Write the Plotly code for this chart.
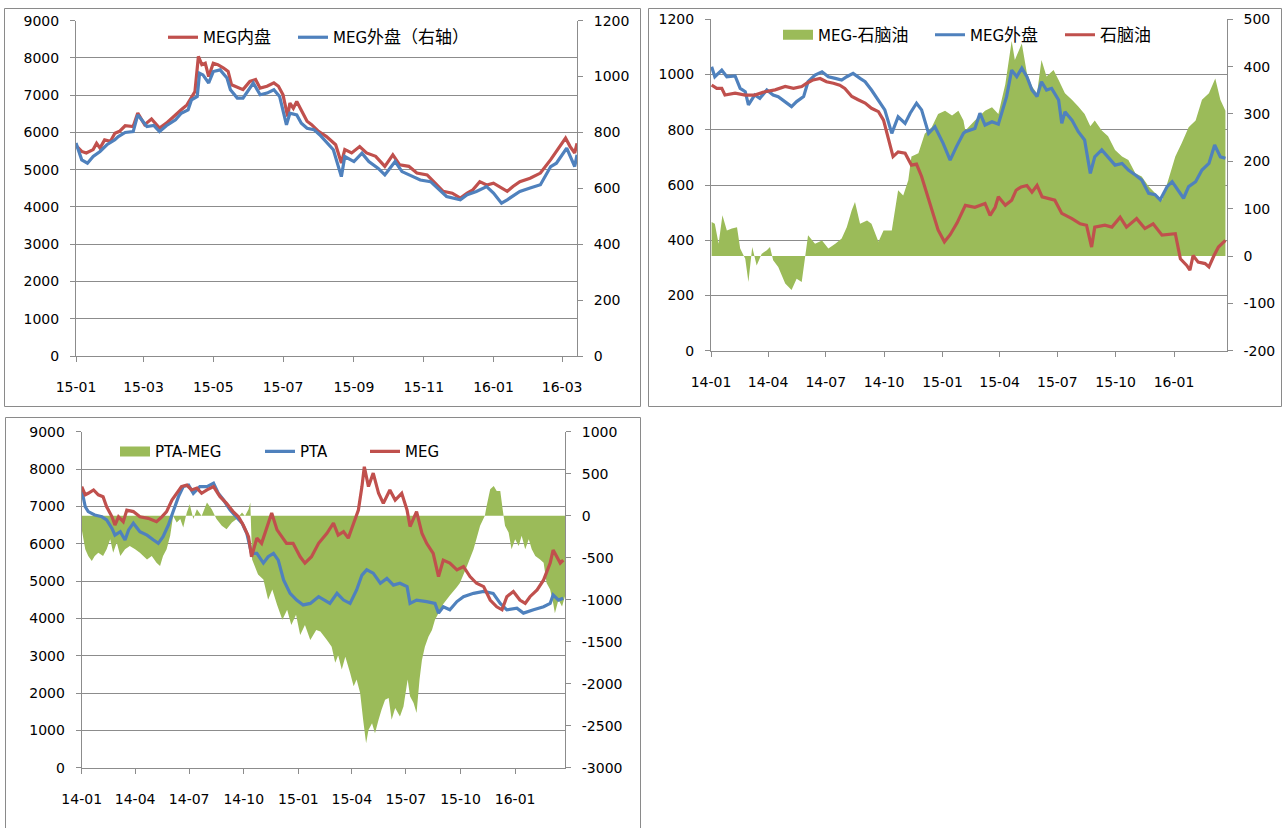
import pandas as pd
import plotly.graph_objects as go

RED = "#C0504D"
BLUE = "#4F81BD"
GREEN = "#9BBB59"
GRID = "#8C8C8C"
FONT = "DejaVu Sans, Noto Sans CJK SC, sans-serif"
CJK = '<span style="font-family:Noto Sans CJK SC;font-size:17px">{}</span>'

# ---------------- Panel 1 : MEG内盘 (left) / MEG外盘 (right) ----------------
p1_base = "2015-01-01"
p1_red_days = [0, 5, 9, 15, 18, 21, 25, 30, 34, 38, 43, 50, 54, 60, 66, 73, 79, 85, 92, 97,
               101, 104, 107, 110, 113, 116, 120, 124, 129, 133, 136, 142, 146, 152, 157, 161, 167, 173, 177, 181,
               185, 187, 190, 193, 197, 202, 206, 212, 219, 227, 232, 235, 241, 248, 254, 262, 270, 277, 283, 291,
               298, 307, 314, 321, 329, 336, 342, 347, 353, 359, 365, 372, 377, 382, 388, 397, 406, 415, 420, 428,
               432, 436, 438]
p1_red = [5650, 5490, 5450, 5540, 5710, 5580, 5800, 5760, 5980, 6030, 6180, 6160, 6520, 6210, 6360, 6120, 6250, 6430, 6610, 6740,
          6970, 7100, 8040, 7820, 7860, 7500, 7860, 7820, 7730, 7640, 7280, 7190, 7150, 7370, 7420, 7190, 7240, 7330, 7240, 7010,
          6430, 6790, 6650, 6830, 6610, 6300, 6210, 6030, 5890, 5670, 5180, 5540, 5450, 5620, 5450, 5360, 5090, 5400, 5130, 5090,
          4910, 4860, 4640, 4420, 4370, 4240, 4370, 4460, 4680, 4590, 4640, 4510, 4420, 4550, 4680, 4770, 4910, 5270, 5490, 5850,
          5620, 5450, 5710]
p1_blue_days = [0, 5, 10, 15, 21, 27, 34, 37, 43, 50, 54, 62, 68, 73, 79, 87, 92, 98, 101, 106,
                108, 111, 116, 120, 126, 132, 135, 141, 146, 155, 161, 167, 173, 178, 184, 187, 193, 197, 202, 208,
                213, 225, 232, 235, 243, 250, 256, 264, 270, 279, 285, 294, 301, 310, 318, 324, 336, 342, 350, 359,
                365, 372, 377, 381, 388, 397, 406, 415, 420, 429, 432, 436, 438]
p1_blue = [762, 702, 690, 714, 732, 756, 774, 785, 800, 803, 863, 821, 825, 803, 824, 845, 869, 881, 917, 929,
           1012, 1006, 977, 1018, 1024, 995, 953, 923, 923, 977, 935, 941, 953, 929, 827, 869, 863, 833, 815, 810,
           792, 738, 642, 714, 696, 726, 696, 672, 648, 696, 660, 642, 630, 624, 595, 571, 559, 577, 589, 606,
           583, 547, 559, 571, 589, 601, 613, 678, 690, 744, 714, 678, 720]
p1_tickvals = ["2015-01-01", "2015-03-01", "2015-05-01", "2015-07-01", "2015-09-01", "2015-11-01", "2016-01-01", "2016-03-01"]
p1_ticktext = ["15-01", "15-03", "15-05", "15-07", "15-09", "15-11", "16-01", "16-03"]
p1_left_ticks = [0, 1000, 2000, 3000, 4000, 5000, 6000, 7000, 8000, 9000]
p1_right_ticks = [0, 200, 400, 600, 800, 1000, 1200]

# ---------------- Panel 2 : MEG-石脑油 / MEG外盘 / 石脑油 ----------------
p2_base = "2014-01-01"
p2_spread_days = [1, 6, 12, 18, 25, 33, 41, 46, 54, 59, 65, 72, 80, 88, 93, 98, 106, 117, 127, 135,
                  143, 148, 153, 164, 175, 185, 196, 206, 214, 222, 227, 235, 246, 253, 264, 272, 285, 295, 303, 311,
                  316, 327, 337, 348, 358, 369, 380, 390, 398, 401, 416, 432, 443, 453, 464, 474, 479, 490, 498, 506,
                  514, 521, 529, 540, 548, 558, 569, 579, 589, 598, 605, 616, 626, 637, 648, 658, 669, 679, 690, 700,
                  711, 721, 732, 742, 753, 764, 774, 785, 795, 803, 811]
p2_spread = [72, 68, 26, 86, 54, 58, 61, 16, -6, -55, 19, -20, 5, 12, 19, -9, -23, -58, -72, -48,
             -55, -6, 44, 26, 33, 16, 26, 37, 61, 97, 114, 68, 75, 68, 30, 54, 54, 139, 128, 160,
             210, 217, 258, 272, 300, 307, 297, 307, 286, 265, 286, 307, 314, 300, 363, 454, 414, 449, 386, 358,
             344, 414, 379, 393, 372, 344, 330, 316, 300, 274, 286, 265, 253, 224, 210, 203, 175, 168, 147, 133,
             118, 161, 210, 238, 272, 286, 330, 344, 375, 330, 307]
p2_meg_days = [1, 6, 17, 25, 38, 46, 54, 59, 69, 77, 88, 98, 106, 117, 127, 135, 146, 153, 164, 175,
               185, 196, 206, 214, 224, 235, 243, 253, 264, 274, 285, 295, 306, 314, 324, 332, 343, 353, 366, 377,
               387, 398, 401, 416, 424, 432, 443, 453, 466, 474, 482, 490, 498, 506, 514, 521, 529, 537, 548, 553,
               558, 569, 579, 589, 598, 605, 616, 626, 637, 648, 658, 669, 679, 690, 700, 708, 719, 727, 737, 745,
               753, 764, 774, 785, 794, 803, 811]
p2_meg = [1028, 992, 1016, 992, 995, 950, 938, 890, 926, 914, 944, 926, 920, 902, 884, 902, 920, 974, 998, 1010,
          992, 986, 980, 992, 1004, 986, 974, 944, 908, 872, 787, 847, 823, 860, 896, 872, 787, 811, 751, 690,
          739, 787, 793, 805, 860, 817, 829, 820, 920, 1016, 992, 1023, 992, 944, 920, 974, 944, 950, 908, 823,
          865, 835, 793, 763, 642, 702, 727, 702, 672, 678, 654, 636, 618, 570, 565, 546, 594, 612, 576, 552,
          594, 612, 654, 678, 745, 702, 697]
p2_naphtha_days = [1, 9, 17, 22, 38, 54, 69, 85, 101, 117, 130, 143, 151, 161, 172, 182, 193, 203, 211, 222,
                   232, 243, 253, 264, 272, 280, 287, 295, 306, 316, 324, 332, 340, 348, 358, 368, 377, 388, 401, 416,
                   432, 440, 448, 453, 464, 474, 481, 489, 498, 506, 514, 522, 542, 553, 569, 582, 592, 600, 605, 621,
                   632, 645, 655, 671, 684, 697, 711, 732, 740, 750, 755, 760, 768, 779, 785, 793, 800, 811]
p2_naphtha = [361, 354, 354, 340, 344, 340, 340, 347, 351, 358, 354, 358, 365, 372, 375, 368, 365, 361, 354, 337,
              330, 323, 312, 305, 287, 245, 210, 220, 217, 192, 194, 168, 132, 95, 55, 30, 45, 70, 107, 103,
              111, 86, 103, 125, 107, 118, 139, 146, 149, 135, 149, 125, 118, 90, 79, 68, 65, 19, 61, 65,
              61, 82, 61, 79, 58, 68, 44, 47, -6, -20, -30, 1, -13, -16, -23, 1, 19, 33]
p23_tickvals = ["2014-01-01", "2014-04-01", "2014-07-01", "2014-10-01", "2015-01-01",
                "2015-04-01", "2015-07-01", "2015-10-01", "2016-01-01"]
p23_ticktext = ["14-01", "14-04", "14-07", "14-10", "15-01", "15-04", "15-07", "15-10", "16-01"]
p2_left_ticks = [0, 200, 400, 600, 800, 1000, 1200]
p2_right_ticks = [-200, -100, 0, 100, 200, 300, 400, 500]

# ---------------- Panel 3 : PTA-MEG / PTA / MEG ----------------
p3_base = "2014-01-01"
p3_spread_days = [0, 6, 11, 17, 22, 28, 36, 42, 48, 53, 59, 65, 73, 81, 90, 98, 110, 118, 126, 132,
                  137, 143, 149, 154, 160, 166, 171, 177, 182, 188, 194, 202, 211, 219, 227, 236, 244, 253, 261, 270,
                  275, 281, 284, 287, 297, 306, 314, 321, 329, 338, 346, 353, 361, 368, 376, 385, 395, 402, 413, 421,
                  427, 432, 438, 444, 452, 458, 463, 469, 474, 479, 483, 489, 494, 500, 505, 511, 517, 522, 528, 536,
                  542, 549, 553, 559, 564, 569, 573, 578, 584, 590, 595, 598, 609, 620, 632, 637, 649, 660, 671, 679,
                  682, 688, 694, 699, 705, 709, 713, 719, 724, 730, 736, 741, 747, 753, 758, 764, 772, 778, 783, 789,
                  794, 797, 803, 809, 814]
p3_spread = [-160, -400, -480, -540, -480, -440, -480, -400, -280, -440, -320, -480, -400, -360, -400, -440, -520, -480, -560, -600,
             -480, -400, -240, -3, -80, -40, -140, 37, 136, -40, 76, -3, 156, 76, -40, -120, -160, -80, -40, 37,
             -3, 76, 156, -520, -700, -760, -1000, -880, -1060, -1240, -1120, -1300, -1180, -1420, -1300, -1480, -1360, -1380, -1480, -1560,
             -1750, -1660, -1830, -1680, -1870, -2030, -1950, -2110, -2430, -2710, -2550, -2470, -2590, -2430, -2310, -2190, -2170, -2430, -2290, -2390,
             -2270, -1950, -2150, -2230, -2350, -1950, -1720, -1560, -1440, -1360, -1240, -1200, -1050, -950, -850, -800, -600, -400, -120, 0,
             116, 315, 355, 295, 295, 76, -120, -200, -400, -280, -360, -240, -400, -280, -400, -480, -520, -560, -800, -880,
             -1040, -1160, -1000, -1080, -960]
p3_pta_days = [0, 6, 11, 22, 34, 42, 51, 56, 65, 73, 79, 87, 98, 110, 121, 129, 137, 146, 154, 163,
               171, 180, 188, 199, 211, 222, 230, 239, 250, 261, 270, 278, 286, 295, 306, 314, 323, 331, 340, 351,
               362, 373, 385, 399, 418, 430, 441, 452, 463, 472, 480, 491, 503, 514, 525, 536, 548, 553, 564, 581,
               595, 601, 609, 620, 632, 643, 660, 677, 693, 705, 716, 733, 744, 761, 778, 789, 794, 803, 811]
p3_pta = [7440, 6990, 6860, 6770, 6720, 6640, 6410, 6230, 6320, 6100, 6370, 6550, 6320, 6230, 6100, 6010, 6190, 6500, 6860, 7260,
          7530, 7570, 7350, 7530, 7530, 7620, 7350, 7170, 6900, 6720, 6550, 6280, 5740, 5740, 5480, 5650, 5740, 5560, 5030, 4670,
          4490, 4360, 4400, 4580, 4400, 4670, 4490, 4400, 4760, 5160, 5300, 5210, 4940, 5070, 4890, 4940, 4850, 4400, 4490, 4450,
          4400, 4140, 4310, 4230, 4450, 4580, 4670, 4720, 4670, 4400, 4230, 4270, 4140, 4230, 4310, 4400, 4630, 4490, 4540]
p3_meg_days = [0, 6, 11, 20, 28, 36, 42, 51, 56, 62, 70, 76, 87, 98, 112, 126, 135, 143, 152, 160,
               168, 177, 185, 194, 202, 211, 222, 233, 244, 255, 264, 272, 281, 286, 295, 303, 312, 320, 329, 337,
               345, 356, 368, 376, 387, 399, 413, 424, 432, 441, 449, 458, 466, 472, 476, 483, 491, 500, 508, 519,
               528, 539, 548, 553, 564, 573, 581, 592, 601, 609, 620, 632, 643, 654, 665, 677, 688, 699, 708, 716,
               727, 738, 747, 755, 767, 778, 789, 794, 800, 806, 811]
p3_meg = [7530, 7310, 7350, 7440, 7310, 7260, 6990, 6720, 6500, 6720, 6590, 6900, 6860, 6720, 6680, 6590, 6720, 6860, 7170, 7350,
          7530, 7570, 7440, 7490, 7350, 7440, 7530, 7260, 7080, 6860, 6720, 6500, 6190, 5650, 6150, 6010, 6460, 6820, 6370, 6190,
          6010, 6010, 5650, 5480, 5650, 6010, 6280, 6550, 6230, 6320, 6150, 6550, 6900, 7530, 8060, 7530, 7890, 7350, 7080, 7440,
          7170, 7350, 6900, 6460, 6860, 6280, 6010, 5740, 5120, 5560, 5480, 5300, 5390, 5120, 4940, 4850, 4490, 4310, 4230, 4580,
          4720, 4490, 4400, 4580, 4760, 5030, 5480, 5830, 5650, 5480, 5560]
p3_left_ticks = [0, 1000, 2000, 3000, 4000, 5000, 6000, 7000, 8000, 9000]
p3_right_ticks = [-3000, -2500, -2000, -1500, -1000, -500, 0, 500, 1000]


def to_dates(base, days):
    return pd.Timestamp(base) + pd.to_timedelta(days, unit="D")


W, H = 1286, 828


def px(x):
    return x / W


def py(y):
    return 1 - y / H


tickfont = dict(family=FONT, size=14, color="#000000")
legfont = dict(family=FONT, size=15, color="#000000")

fig = go.Figure()

# Panel 1
fig.add_trace(go.Scatter(x=to_dates(p1_base, p1_red_days), y=p1_red, name="MEG" + CJK.format("内盘"), mode="lines",
                         line=dict(color=RED, width=3.2), xaxis="x", yaxis="y", legend="legend", legendwidth=85))
fig.add_trace(go.Scatter(x=to_dates(p1_base, p1_blue_days), y=p1_blue, name="MEG" + CJK.format("外盘（右轴）"),
                         mode="lines", line=dict(color=BLUE, width=3.2), xaxis="x", yaxis="y2", legend="legend"))

# Panel 2
fig.add_trace(go.Scatter(x=to_dates(p2_base, p2_spread_days), y=p2_spread, mode="none", fill="tozeroy",
                         fillcolor=GREEN, xaxis="x2", yaxis="y3", showlegend=False, name="MEG-石脑油"))
fig.add_trace(go.Scatter(x=[None], y=[None], mode="lines", line=dict(color=GREEN, width=12),
                         name="MEG-" + CJK.format("石脑油"),
                         xaxis="x2", yaxis="y3", legend="legend2", legendwidth=107))
fig.add_trace(go.Scatter(x=to_dates(p2_base, p2_meg_days), y=p2_meg, name="MEG" + CJK.format("外盘"), mode="lines",
                         line=dict(color=BLUE, width=3.2), xaxis="x2", yaxis="y4", legend="legend2", legendwidth=85))
fig.add_trace(go.Scatter(x=to_dates(p2_base, p2_naphtha_days), y=p2_naphtha, name=CJK.format("石脑油"), mode="lines",
                         line=dict(color=RED, width=3.2), xaxis="x2", yaxis="y5", legend="legend2"))

# Panel 3
fig.add_trace(go.Scatter(x=to_dates(p3_base, p3_spread_days), y=p3_spread, mode="none", fill="tozeroy",
                         fillcolor=GREEN, xaxis="x3", yaxis="y6", showlegend=False, name="PTA-MEG"))
fig.add_trace(go.Scatter(x=[None], y=[None], mode="lines", line=dict(color=GREEN, width=12), name="PTA-MEG",
                         xaxis="x3", yaxis="y6", legend="legend3", legendwidth=100))
fig.add_trace(go.Scatter(x=to_dates(p3_base, p3_pta_days), y=p3_pta, name="PTA", mode="lines",
                         line=dict(color=BLUE, width=3.2), xaxis="x3", yaxis="y7", legend="legend3", legendwidth=60))
fig.add_trace(go.Scatter(x=to_dates(p3_base, p3_meg_days), y=p3_meg, name="MEG", mode="lines",
                         line=dict(color=RED, width=3.2), xaxis="x3", yaxis="y7", legend="legend3"))

xcommon = dict(type="date", showgrid=False, zeroline=False, showline=True, linecolor=GRID, linewidth=1,
               ticks="outside", ticklen=5, tickcolor=GRID, tickfont=tickfont, tickmode="array",
               ticklabelstandoff=13, automargin=False)
ycommon = dict(showline=True, linecolor=GRID, linewidth=1, ticks="outside", ticklen=5, tickcolor=GRID,
               tickfont=tickfont, zeroline=False, tickmode="array", ticklabelstandoff=8, automargin=False)


def yt(vals):
    return dict(tickvals=vals, ticktext=[str(v) for v in vals])


d1x = [px(76), px(577)]
d1y = [py(356), py(20.7)]
d2x = [px(711), px(1226.7)]
d2y = [py(350.7), py(19.3)]
d3x = [px(81.7), px(565)]
d3y = [py(767.7), py(431.7)]

fig.update_layout(
    template="none",
    width=W, height=H, autosize=False,
    margin=dict(l=0, r=0, t=0, b=0, pad=0, autoexpand=False),
    paper_bgcolor="white", plot_bgcolor="rgba(0,0,0,0)",
    showlegend=True,
    xaxis=dict(xcommon, domain=d1x, anchor="y", range=["2015-01-01", "2016-03-14"],
               tickvals=p1_tickvals, ticktext=p1_ticktext),
    yaxis=dict(ycommon, domain=d1y, anchor="x", range=[0, 9000], **yt(p1_left_ticks),
               showgrid=True, gridcolor=GRID, gridwidth=1),
    yaxis2=dict(ycommon, overlaying="y", side="right", anchor="x", range=[0, 1200], **yt(p1_right_ticks),
                showgrid=False),
    xaxis2=dict(xcommon, domain=d2x, anchor="y3", range=["2014-01-01", "2016-03-24"],
                tickvals=p23_tickvals, ticktext=p23_ticktext),
    yaxis3=dict(ycommon, domain=d2y, anchor="x2", side="right", range=[-200, 500], **yt(p2_right_ticks),
                showgrid=False),
    yaxis4=dict(ycommon, overlaying="y3", side="left", anchor="x2", range=[0, 1200], **yt(p2_left_ticks),
                showgrid=True, gridcolor=GRID, gridwidth=1),
    yaxis5=dict(overlaying="y3", anchor="x2", range=[-200, 500], visible=False, automargin=False),
    xaxis3=dict(xcommon, domain=d3x, anchor="y6", range=["2014-01-01", "2016-03-25"],
                tickvals=p23_tickvals, ticktext=p23_ticktext),
    yaxis6=dict(ycommon, domain=d3y, anchor="x3", side="right", range=[-3000, 1000], **yt(p3_right_ticks),
                showgrid=False),
    yaxis7=dict(ycommon, overlaying="y6", side="left", anchor="x3", range=[0, 9000], **yt(p3_left_ticks),
                showgrid=True, gridcolor=GRID, gridwidth=1),
    legend=dict(orientation="h", x=px(163), y=py(37.5), xanchor="left", yanchor="middle",
                bgcolor="rgba(0,0,0,0)", font=legfont, itemwidth=30, borderwidth=0),
    legend2=dict(orientation="h", x=px(778), y=py(35), xanchor="left", yanchor="middle",
                 bgcolor="rgba(0,0,0,0)", font=legfont, itemwidth=30, borderwidth=0),
    legend3=dict(orientation="h", x=px(115), y=py(451.7), xanchor="left", yanchor="middle",
                 bgcolor="rgba(0,0,0,0)", font=legfont, itemwidth=30, borderwidth=0),
    shapes=[
        dict(type="rect", xref="paper", yref="paper", x0=px(4.5), x1=px(640.5), y0=py(406.5), y1=py(8.5),
             line=dict(color="#8A8A8A", width=1), fillcolor="rgba(0,0,0,0)", layer="below"),
        dict(type="rect", xref="paper", yref="paper", x0=px(648.5), x1=px(1281.5), y0=py(406.5), y1=py(8.5),
             line=dict(color="#8A8A8A", width=1), fillcolor="rgba(0,0,0,0)", layer="below"),
        dict(type="rect", xref="paper", yref="paper", x0=px(5.5), x1=px(640.5), y0=py(840), y1=py(417.5),
             line=dict(color="#8A8A8A", width=1), fillcolor="rgba(0,0,0,0)", layer="below"),
    ],
)

fig.write_html("out.html")
